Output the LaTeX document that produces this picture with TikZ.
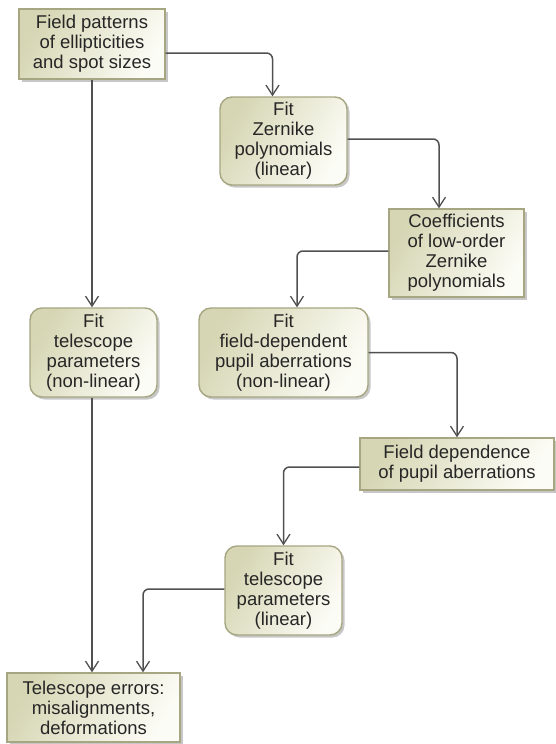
\documentclass[tikz,border=0pt]{standalone}
\usepackage{fontspec}
\setmainfont{Liberation Sans}
\usetikzlibrary{arrows.meta,shadows}
\definecolor{boxdark}{HTML}{D6D6B4}
\definecolor{boxlight}{HTML}{FCFCF6}
\definecolor{boxedge}{HTML}{A6A682}
\definecolor{linecol}{HTML}{505050}
\tikzset{
  base/.style={draw=boxedge, line width=1.4pt, align=center, inner sep=2pt,
    left color=boxdark, right color=boxlight, shading angle=60,
    drop shadow={shadow xshift=2.5pt, shadow yshift=-2.5pt, fill=black, opacity=0.22},
    font=\fontsize{18.5}{20}\selectfont, text=black!85},
  sqbox/.style={base},
  rdbox/.style={base, rounded corners=12pt},
  arr/.style={draw=linecol, line width=1.5pt, rounded corners=6pt,
    -{Straight Barb[length=10pt,width=13pt,line width=1.3pt]}}
}
\begin{document}
\begin{tikzpicture}[x=1pt,y=-1pt]
\useasboundingbox (0,0) rectangle (555,744);
\node[sqbox, minimum width=146pt, minimum height=70pt] (b1) at (92,44) {Field patterns\\of ellipticities\\and spot sizes};
\node[rdbox, minimum width=127pt, minimum height=88pt] (b2) at (283.5,141) {Fit\\Zernike\\polynomials\\(linear)};
\node[sqbox, minimum width=135pt, minimum height=88pt] (b3) at (456.5,253) {Coefficients\\of low-order\\Zernike\\polynomials};
\node[rdbox, minimum width=169pt, minimum height=89pt] (b4) at (283.5,352.5) {Fit\\field-dependent\\pupil aberrations\\(non-linear)};
\node[rdbox, minimum width=127pt, minimum height=89pt] (b5) at (93.5,352.5) {Fit\\telescope\\parameters\\(non-linear)};
\node[sqbox, minimum width=194pt, minimum height=52pt] (b6) at (457,464) {Field dependence\\of pupil aberrations};
\node[rdbox, minimum width=117pt, minimum height=89pt] (b7) at (283.5,590.5) {Fit\\telescope\\parameters\\(linear)};
\node[sqbox, minimum width=173pt, minimum height=69pt] (b8) at (93.5,707.5) {Telescope errors:\\misalignments,\\deformations};
\draw[arr] ([yshift=-9pt]b1.east) -| ([xshift=-11pt]b2.north);
\draw[arr] ([yshift=2pt]b2.east) -| ([xshift=-17.5pt]b3.north);
\draw[arr] ([yshift=2pt]b3.west) -| ([xshift=13.5pt]b4.north);
\draw[arr] (b4.east) -| (b6.north);
\draw[arr] ([yshift=-3pt]b6.west) -| (b7.north);
\draw[arr] ([yshift=1.5pt]b7.west) -| ([xshift=49.5pt]b8.north);
\draw[arr] (b1.south) -- ([xshift=-1.5pt]b5.north);
\draw[arr] ([xshift=-1.5pt]b5.south) -- ([xshift=-1.5pt]b8.north);
\end{tikzpicture}
\end{document}
